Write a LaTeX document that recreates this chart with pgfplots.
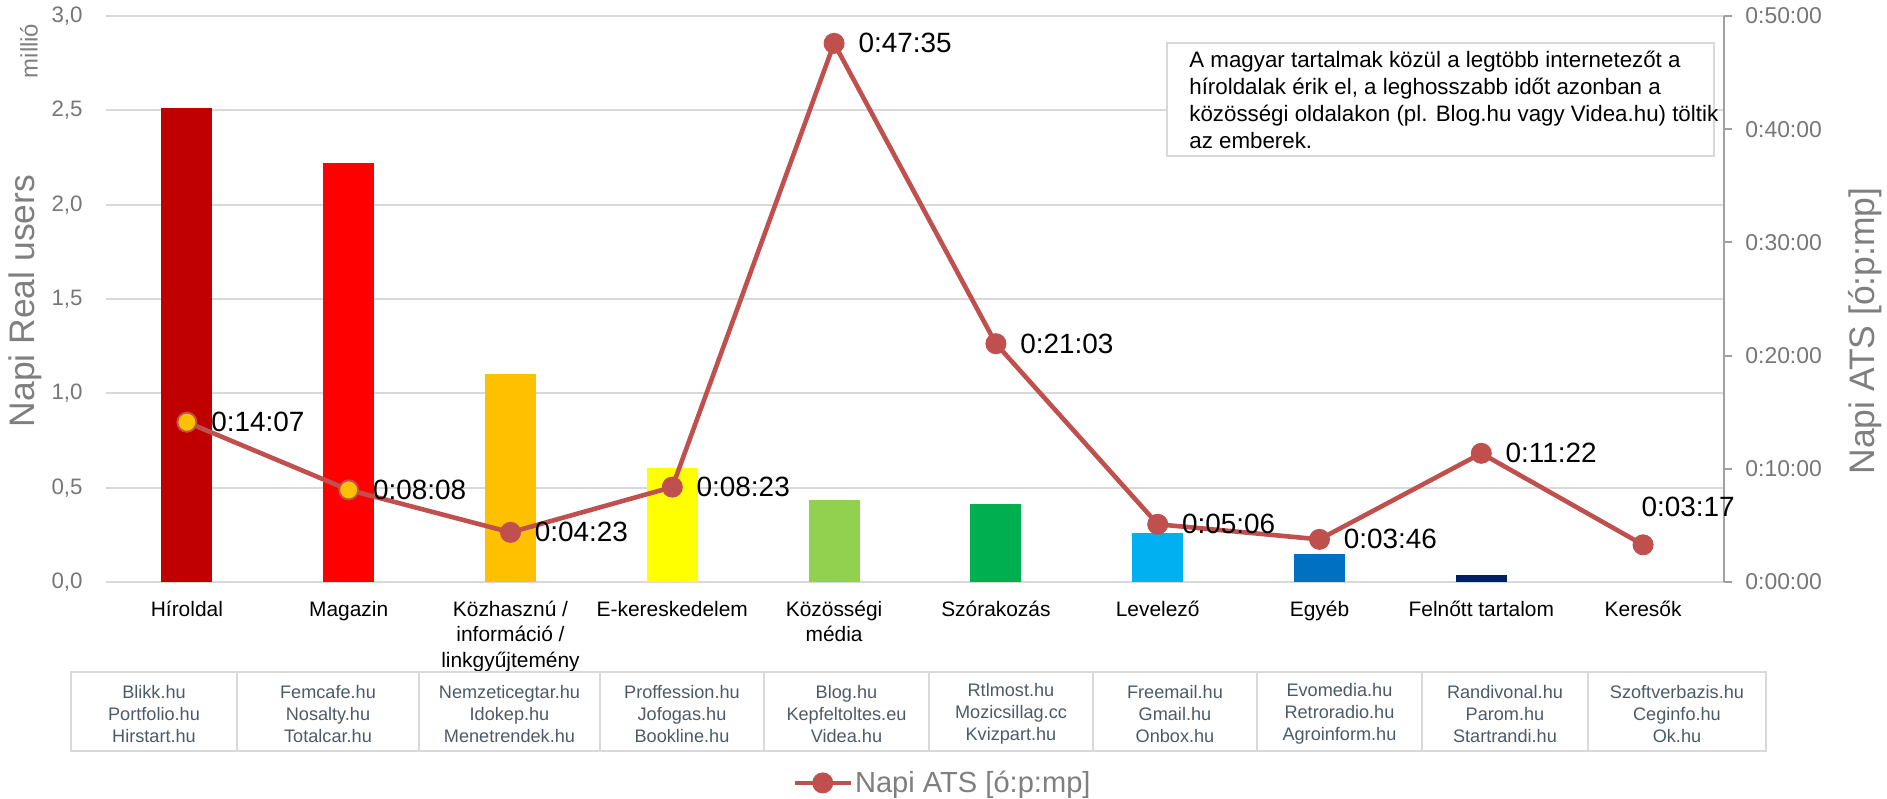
\documentclass[border=0pt]{standalone}
\usepackage{fontspec}
\setmainfont{Liberation Sans}
\usepackage{pgfplots}
\usepackage{pgfplotstable}
\pgfplotsset{compat=1.18}

\definecolor{c1}{HTML}{C00000}
\definecolor{c2}{HTML}{FF0000}
\definecolor{c3}{HTML}{FFC000}
\definecolor{c4}{HTML}{FFFF00}
\definecolor{c5}{HTML}{92D050}
\definecolor{c6}{HTML}{00B050}
\definecolor{c7}{HTML}{00B0F0}
\definecolor{c8}{HTML}{0070C0}
\definecolor{c9}{HTML}{002060}
\definecolor{atsred}{HTML}{C0504D}
\definecolor{gold}{HTML}{FFC000}
\definecolor{gridgray}{HTML}{D9D9D9}
\definecolor{tickgray}{HTML}{767676}
\definecolor{titlegray}{HTML}{7F7F7F}
\definecolor{axgray}{HTML}{A0A0A0}
\definecolor{sitegray}{HTML}{4D5A66}

% napi ATS masodpercben
\pgfplotstableread{
x ats lab
0 847 0:14:07
1 488 0:08:08
2 263 0:04:23
3 503 0:08:23
4 2855 0:47:35
5 1263 0:21:03
6 306 0:05:06
7 226 0:03:46
8 682 0:11:22
9 197 0:03:17
}\ats

\begin{document}
\begin{tikzpicture}
\useasboundingbox (0,0) rectangle (943.5bp,399.5bp);

\begin{axis}[
  at={(53bp,108.5bp)}, anchor=south west,
  scale only axis, width=809bp, height=283bp,
  xmin=-0.5, xmax=9.5, ymin=0, ymax=3,
  axis line style={draw=none},
  major tick length=0pt,
  xtick={0,...,9},
  xticklabels={Híroldal, Magazin, {Közhasznú /\\információ /\\linkgyűjtemény}, E-kereskedelem, {Közösségi\\média}, Szórakozás, Levelező, Egyéb, Felnőtt tartalom, Keresők},
  xticklabel style={align=center, font=\fontsize{10.5}{12.6}\selectfont, anchor=north, inner sep=0pt, yshift=-9.5bp},
  ytick={0,0.5,1,1.5,2,2.5,3},
  ymajorgrids, major grid style={draw=gridgray, line width=1bp},
  /pgf/number format/assume math mode=true,
  yticklabel style={/pgf/number format/.cd, fixed, fixed zerofill, precision=1, use comma, /tikz/.cd,
    font=\fontsize{11.2}{13}\selectfont, text=tickgray, anchor=east, inner sep=0pt, xshift=-11.5bp},
]
\addplot[ybar, bar width=25.5bp, bar shift=0pt, fill=c1, draw=none] coordinates {(0,2.51)};
\addplot[ybar, bar width=25.5bp, bar shift=0pt, fill=c2, draw=none] coordinates {(1,2.22)};
\addplot[ybar, bar width=25.5bp, bar shift=0pt, fill=c3, draw=none] coordinates {(2,1.10)};
\addplot[ybar, bar width=25.5bp, bar shift=0pt, fill=c4, draw=none] coordinates {(3,0.606)};
\addplot[ybar, bar width=25.5bp, bar shift=0pt, fill=c5, draw=none] coordinates {(4,0.434)};
\addplot[ybar, bar width=25.5bp, bar shift=0pt, fill=c6, draw=none] coordinates {(5,0.415)};
\addplot[ybar, bar width=25.5bp, bar shift=0pt, fill=c7, draw=none] coordinates {(6,0.262)};
\addplot[ybar, bar width=25.5bp, bar shift=0pt, fill=c8, draw=none] coordinates {(7,0.147)};
\addplot[ybar, bar width=25.5bp, bar shift=0pt, fill=c9, draw=none] coordinates {(8,0.038)};
\end{axis}

\begin{axis}[
  at={(53bp,108.5bp)}, anchor=south west,
  scale only axis, width=809bp, height=283bp,
  xmin=-0.5, xmax=9.5, ymin=0, ymax=3000,
  axis x line=none, axis y line*=right,
  y axis line style={draw=axgray, line width=1bp},
  ytick={0,600,1200,1800,2400,3000},
  yticklabels={0:00:00,0:10:00,0:20:00,0:30:00,0:40:00,0:50:00},
  tick align=outside, major tick length=4bp,
  ytick style={draw=axgray, line width=1bp},
  yticklabel style={font=\fontsize{11.5}{13}\selectfont, text=tickgray, anchor=west, inner sep=0pt, xshift=6.5bp},
  legend style={at={(0.424,-0.355)}, anchor=west, draw=none, fill=none, inner sep=0pt,
    font=\fontsize{14.6}{17}\selectfont, text=titlegray, nodes={inner xsep=1bp}},
  legend image code/.code={\draw[mark repeat=2, mark phase=2, #1] plot coordinates {(0bp,0bp) (14bp,0bp) (28bp,0bp)};},
]
\addplot[atsred, line width=2.3bp, mark=*, mark size=5bp, mark options={fill=atsred, draw=atsred, line width=0.5bp}]
  table[x=x, y=ats] {\ats};
\addlegendentry{Napi ATS [ó:p:mp]}
\addplot[only marks, forget plot, mark=*, mark size=4.6bp, mark options={fill=gold, draw=atsred, line width=0.6bp},
  restrict x to domain=0:1] table[x=x, y=ats] {\ats};
\addplot[draw=none, mark=none, forget plot, nodes near coords, point meta=explicit symbolic,
  nodes near coords style={font=\fontsize{14}{16}\selectfont, text=black, anchor=west, inner sep=0pt, xshift=12bp},
  restrict x to domain=0:8] table[x=x, y=ats, meta=lab] {\ats};
\addplot[draw=none, mark=none, forget plot, nodes near coords, point meta=explicit symbolic,
  nodes near coords style={font=\fontsize{14}{16}\selectfont, text=black, anchor=base west, inner sep=0pt, xshift=-1bp, yshift=14bp},
  restrict x to domain=9:9] table[x=x, y=ats, meta=lab] {\ats};
\end{axis}

\begin{scope}[x=0.5bp, y=-0.5bp, shift={(0bp,399.5bp)}]
  % tengelycimek
  \node[rotate=90, font=\fontsize{12}{14}\selectfont, text=titlegray] at (29,51) {millió};
  \node[rotate=90, font=\fontsize{17.8}{20}\selectfont, text=titlegray] at (25,301) {Napi Real users};
  \node[rotate=90, font=\fontsize{17.8}{20}\selectfont, text=titlegray] at (1865,331) {Napi ATS [ó:p:mp]};
  % szovegdoboz
  \draw[draw=gridgray, line width=1bp, fill=white] (1167,43) rectangle (1714,156);
  \node[anchor=north west, align=left, inner sep=0pt, font=\fontsize{11.2}{13.5}\selectfont] at (1189,51)
    {A magyar tartalmak közül a legtöbb internetezőt a\\híroldalak érik el, a leghosszabb időt azonban a\\közösségi oldalakon (pl. Blog.hu vagy Videa.hu) töltik\\az emberek.};
  % oldalak tablazata
  \foreach \xa/\xb/\s in {71/237/{Blikk.hu\\Portfolio.hu\\Hirstart.hu},
      237/419/{Femcafe.hu\\Nosalty.hu\\Totalcar.hu},
      419/600/{Nemzeticegtar.hu\\Idokep.hu\\Menetrendek.hu},
      600/764/{Proffession.hu\\Jofogas.hu\\Bookline.hu},
      764/929/{Blog.hu\\Kepfeltoltes.eu\\Videa.hu},
      929/1093/{Rtlmost.hu\\Mozicsillag.cc\\Kvizpart.hu},
      1093/1257/{Freemail.hu\\Gmail.hu\\Onbox.hu},
      1257/1422/{Evomedia.hu\\Retroradio.hu\\Agroinform.hu},
      1422/1588/{Randivonal.hu\\Parom.hu\\Startrandi.hu},
      1588/1766/{Szoftverbazis.hu\\Ceginfo.hu\\Ok.hu}} {
    \draw[draw=gridgray, line width=1bp] (\xa,672) rectangle (\xb,751);
    \node[align=center, inner sep=0pt, text=sitegray, font=\fontsize{9.1}{11}\selectfont] at ({(\xa+\xb)/2},714) {\s};
  }
\end{scope}
\end{tikzpicture}
\end{document}
